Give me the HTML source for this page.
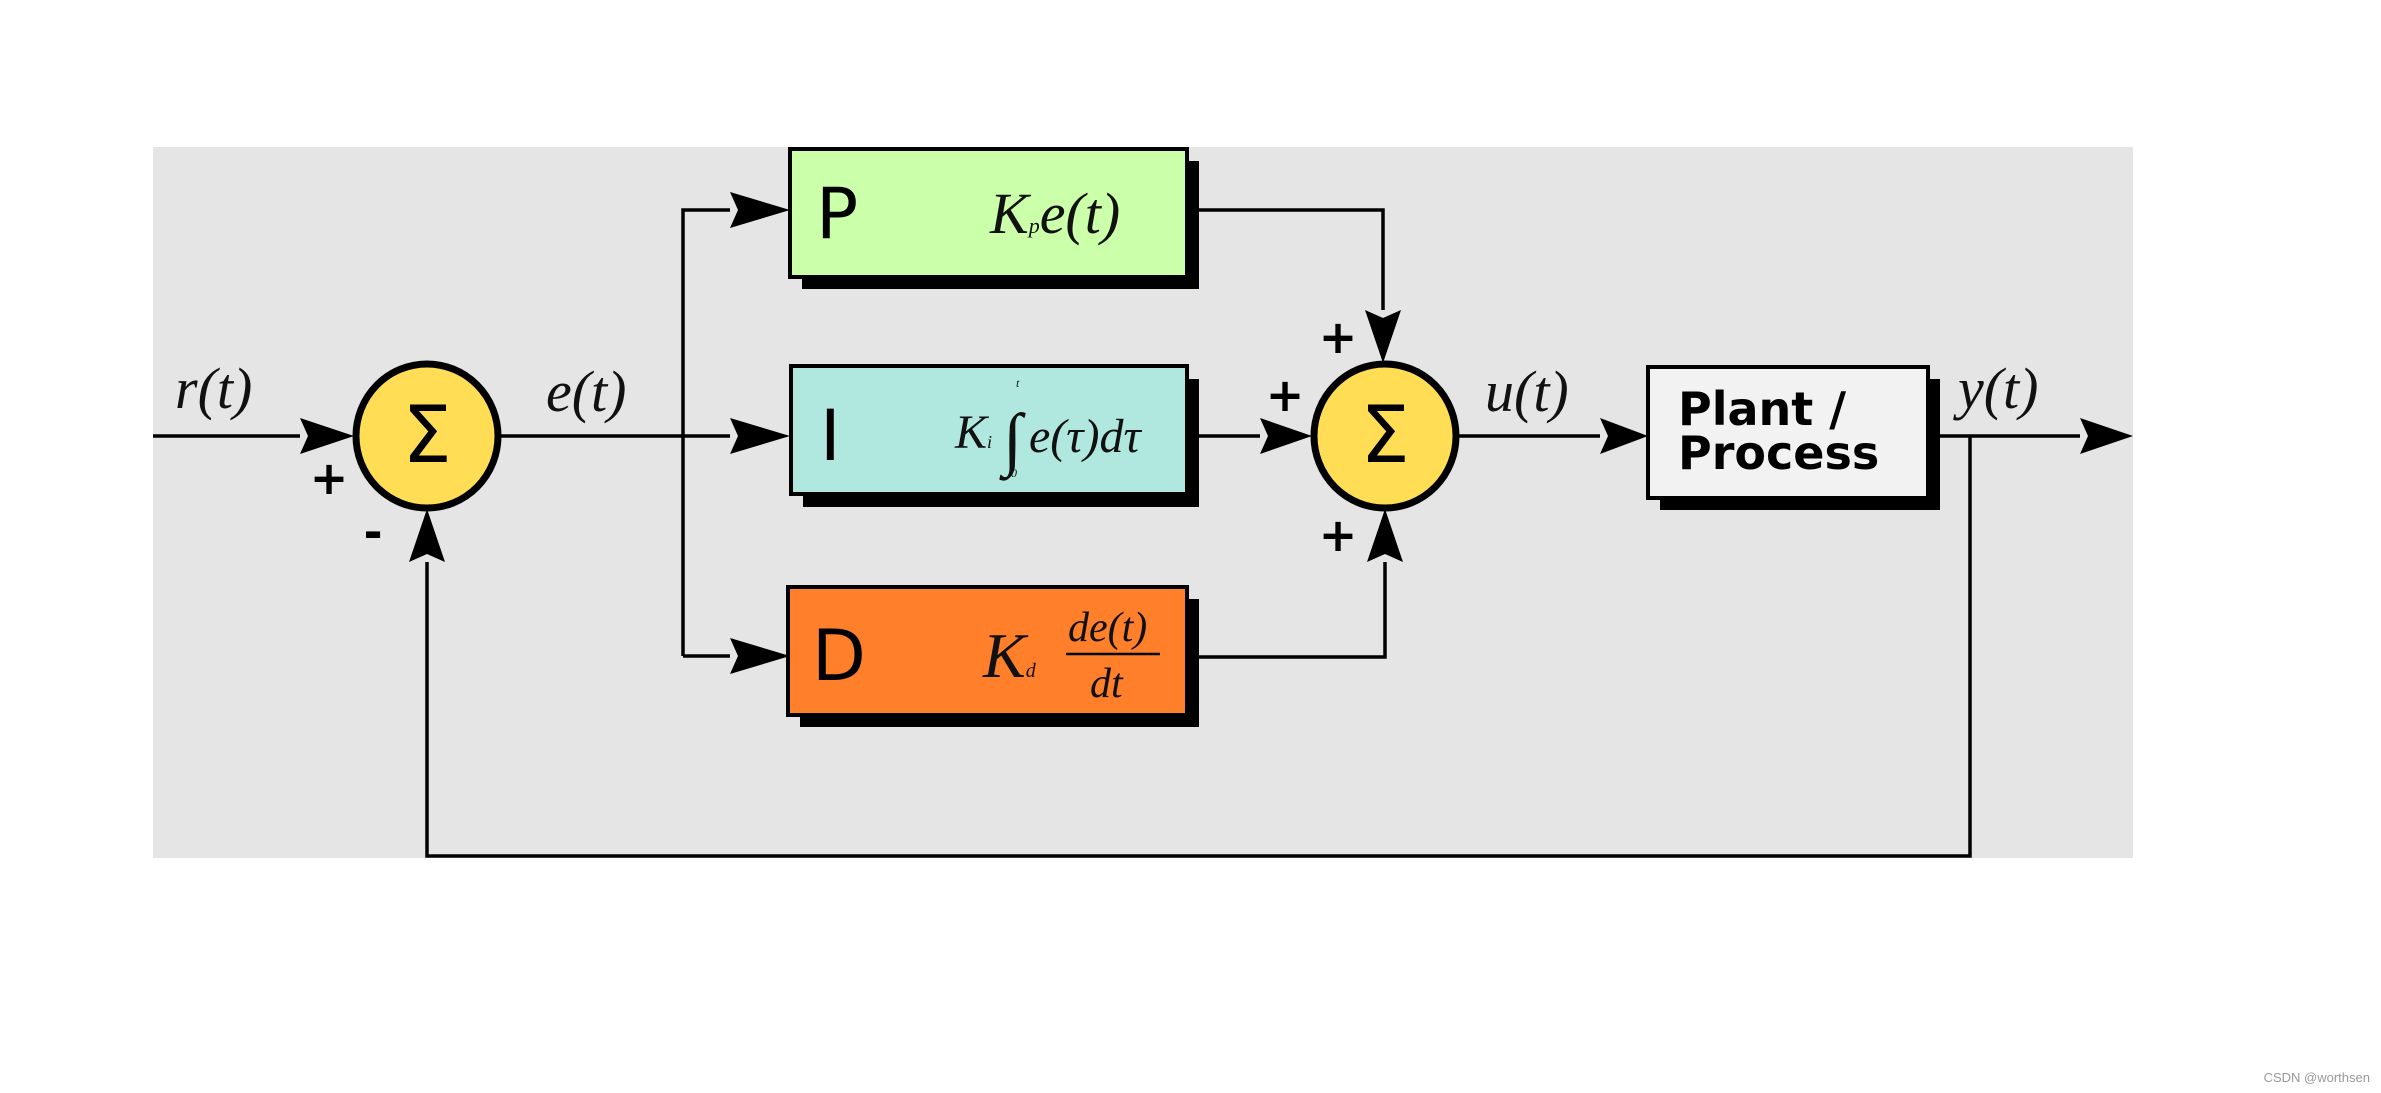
<!DOCTYPE html>
<html><head><meta charset="utf-8"><style>
html,body{margin:0;padding:0;background:#fff;width:2381px;height:1093px;overflow:hidden}
svg{display:block}
.m{font-family:"Liberation Serif",serif;font-style:italic;fill:#111}
.s{font-family:"DejaVu Sans","Liberation Sans",sans-serif;fill:#000}
</style></head><body>
<svg width="2381" height="1093" viewBox="0 0 2381 1093" xmlns="http://www.w3.org/2000/svg">
<defs><marker id="a" markerWidth="10" markerHeight="10" refX="9" refY="5" orient="auto" markerUnits="userSpaceOnUse" viewBox="0 0 10 10"><path d="M0,0 L10,5 L0,10 L2,5z" fill="#000"/></marker></defs>
<rect x="153" y="147" width="1980" height="711" fill="#e5e5e5"/>
<g stroke="#000" stroke-width="3.5" fill="none">
<!-- input -->
<line x1="153" y1="436" x2="300" y2="436"/>
<line x1="500" y1="436" x2="730" y2="436"/>
<polyline points="683,656 683,210 730,210"/>
<line x1="683" y1="656" x2="730" y2="656"/>
<!-- outputs -->
<polyline points="1187,210 1383,210 1383,310"/>
<line x1="1199" y1="436" x2="1260" y2="436"/>
<polyline points="1187,657 1385,657 1385,562"/>
<line x1="1458" y1="436" x2="1600" y2="436"/>
<line x1="1928" y1="436" x2="2080" y2="436"/>
<polyline points="1970,436 1970,856 427,856 427,562"/>
</g>
<g fill="#000">
<path d="M300,418 L354,436 L300,454 L308,436z"/>
<path d="M730,192 L790,210 L730,228 L738,210z"/>
<path d="M730,418 L790,436 L730,454 L738,436z"/>
<path d="M730,638 L790,656 L730,674 L738,656z"/>
<path d="M1260,418 L1312,436 L1260,454 L1268,436z"/>
<path d="M1600,418 L1648,436 L1600,454 L1608,436z"/>
<path d="M2080,418 L2133,436 L2080,454 L2088,436z"/>
<path d="M1365,310 L1383,363 L1401,310 L1383,318z"/>
<path d="M1367,562 L1385,509 L1403,562 L1385,554z"/>
<path d="M409,562 L427,509 L445,562 L427,554z"/>
</g>
<!-- boxes -->
<rect x="802" y="161" width="397" height="128" fill="#000"/>
<rect x="790" y="149" width="397" height="128" fill="#ccffaa" stroke="#000" stroke-width="4"/>
<rect x="803" y="379" width="396" height="128" fill="#000"/>
<rect x="791" y="366" width="396" height="128" fill="#b0e8df" stroke="#000" stroke-width="4"/>
<rect x="800" y="599" width="399" height="128" fill="#000"/>
<rect x="788" y="587" width="399" height="128" fill="#ff7f2a" stroke="#000" stroke-width="4"/>
<rect x="1660" y="379" width="280" height="131" fill="#000"/>
<rect x="1648" y="367" width="280" height="131" fill="#f2f2f2" stroke="#000" stroke-width="4"/>
<!-- sums -->
<ellipse cx="427" cy="436" rx="71" ry="72" fill="#ffdd55" stroke="#000" stroke-width="7"/>
<ellipse cx="1385" cy="436" rx="71" ry="72" fill="#ffdd55" stroke="#000" stroke-width="7"/>
<text x="427" y="462" text-anchor="middle" class="s" font-size="78">Σ</text>
<text x="1385" y="462" text-anchor="middle" class="s" font-size="78">Σ</text>
<!-- signs -->
<g class="s" font-size="46" font-weight="bold" text-anchor="middle">
<text x="329" y="494">+</text><text x="373" y="548">-</text>
<text x="1338" y="353">+</text><text x="1285" y="411">+</text><text x="1338" y="551">+</text>
</g>
<!-- box letters -->
<text x="816" y="238" class="s" font-size="70">P</text>
<text x="820" y="460" class="s" font-size="70" font-family="Liberation Serif">I</text>
<text x="812" y="680" class="s" font-size="70">D</text>
<text x="1960" y="0" class="s"></text>
<g class="s" font-size="46" font-weight="bold"><text x="1678" y="425">Plant /</text><text x="1678" y="469">Process</text></g>
<!-- math -->
<g class="m" font-size="58">
<text x="175" y="408">r(t)</text>
<text x="546" y="411">e(t)</text>
<text x="1485" y="411">u(t)</text>
<text x="1958" y="408">y(t)</text>
<text x="990" y="233">K<tspan font-size="22">p</tspan>e(t)</text>
<text x="955" y="448" font-size="48">K<tspan font-size="18">i</tspan></text>
<text x="1003" y="462" font-size="70" font-style="normal">∫</text>
<text x="1029" y="452" font-size="48">e(τ)dτ</text>
<text x="1016" y="387" font-size="12">t</text>
<text x="1011" y="477" font-size="12">0</text>
<text x="983" y="677" font-size="64">K<tspan font-size="20">d</tspan></text>
<text x="1068" y="641" font-size="42">de(t)</text>
<text x="1090" y="697" font-size="42">dt</text>
</g>
<line x1="1066" y1="654" x2="1160" y2="654" stroke="#000" stroke-width="2.5"/>
<text x="2370" y="1082" text-anchor="end" font-family="Liberation Sans,sans-serif" font-size="13" fill="#999">CSDN @worthsen</text>
</svg>
</body></html>
